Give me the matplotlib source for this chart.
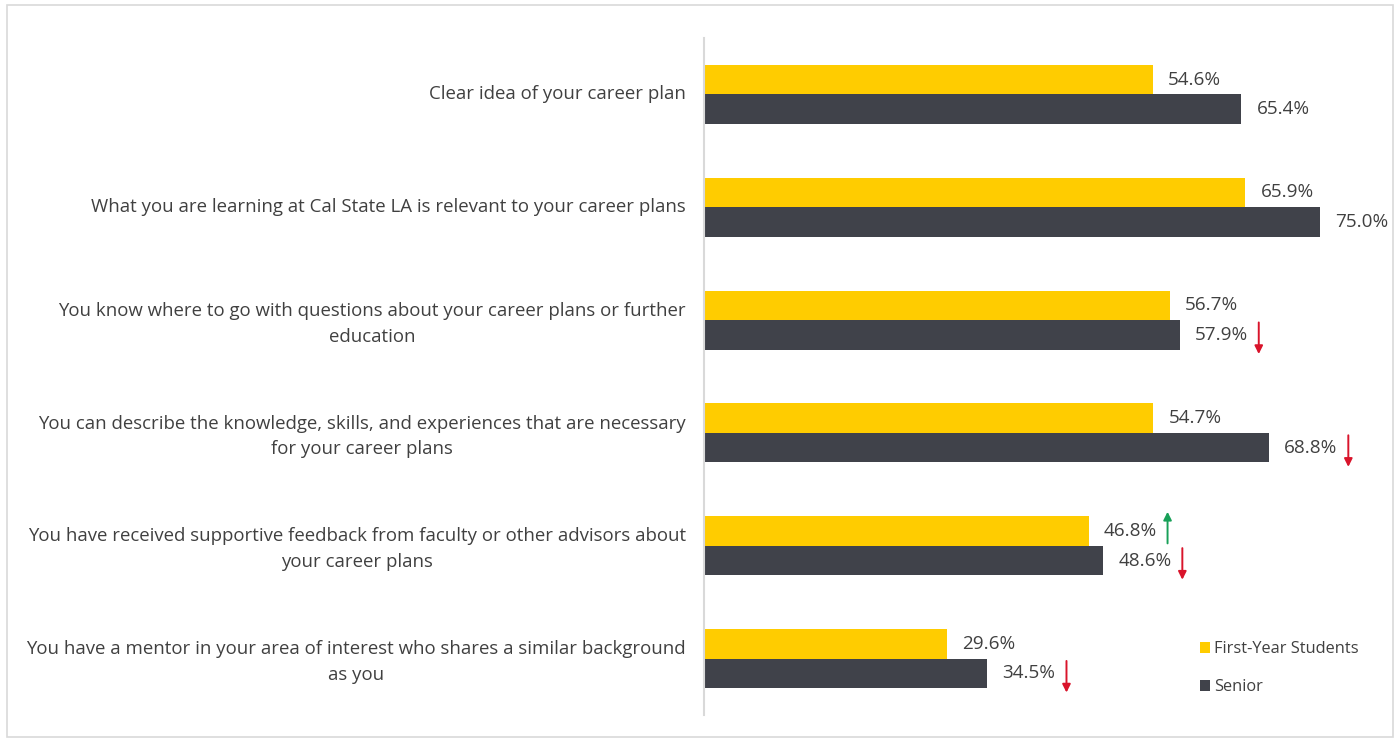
import matplotlib
matplotlib.use("Agg")
import matplotlib.pyplot as plt
import matplotlib.transforms as mtransforms
from matplotlib.patches import Rectangle
import numpy as np

plt.rcParams['font.family'] = ['Open Sans', 'DejaVu Sans']

categories = [
    "Clear idea of your career plan",
    "What you are learning at Cal State LA is relevant to your career plans",
    "You know where to go with questions about your career plans or further\neducation",
    "You can describe the knowledge, skills, and experiences that are necessary\nfor your career plans",
    "You have received supportive feedback from faculty or other advisors about\nyour career plans",
    "You have a mentor in your area of interest who shares a similar background\nas you",
]
first_year = [54.6, 65.9, 56.7, 54.7, 46.8, 29.6]
senior = [65.4, 75.0, 57.9, 68.8, 48.6, 34.5]
# arrow markers: 1 = up (green), -1 = down (red), 0 = none
first_year_arrows = [0, 0, 0, 0, 1, 0]
senior_arrows = [0, 0, -1, -1, -1, -1]
series_names = ["First-Year Students", "Senior"]

YELLOW = "#FFCC00"
DARK = "#40424A"
TEXT = "#404040"
RED = "#D9142B"
GREEN = "#18A058"

fig = plt.figure(figsize=(13.98, 7.42), dpi=100)
fig.patches.append(Rectangle((7/1398, 5/742), 1386/1398, 732/742, transform=fig.transFigure,
                             fill=False, edgecolor="#D9D9D9", linewidth=1.2))

ax = fig.add_axes([704/1398, 27/742, 682/1398, 677/742])
n = len(categories)
y = np.arange(n)
h = 0.262
ax.barh(y - h/2, first_year, height=h, color=YELLOW, label=series_names[0])
ax.barh(y + h/2, senior, height=h, color=DARK, label=series_names[1])
ax.set_ylim(n - 0.5, -0.5)
ax.set_xlim(0, 83)

for s in ["top", "right", "bottom"]:
    ax.spines[s].set_visible(False)
ax.spines["left"].set_color("#D9D9D9")
ax.spines["left"].set_linewidth(1.5)
ax.set_xticks([])
ax.set_yticks(y - 0.02)
ax.set_yticklabels(categories, fontsize=13.4, color=TEXT, multialignment="center", linespacing=1.55)
ax.tick_params(axis="y", length=0, pad=13)

def label(vals, offs, arrows):
    for i, v in enumerate(vals):
        tr = mtransforms.offset_copy(ax.transData, fig=fig, x=15, y=0, units="dots")
        ax.text(v, i + offs, f"{v:.1f}%", transform=tr, fontsize=13.6, color=TEXT,
                ha="left", va="center")
        a = arrows[i]
        if a != 0:
            tr0 = mtransforms.offset_copy(ax.transData, fig=fig, x=79, y=0, units="dots")
            if a > 0:
                start, end, col = (i + offs + 0.11), (i + offs - 0.17), GREEN
            else:
                start, end, col = (i + offs - 0.11), (i + offs + 0.17), RED
            ax.annotate("", xy=(v, end), xytext=(v, start), xycoords=tr0, textcoords=tr0,
                        arrowprops=dict(arrowstyle="-|>", color=col, lw=1.4,
                                        mutation_scale=12, shrinkA=0, shrinkB=0))

label(first_year, -h/2, first_year_arrows)
label(senior, h/2, senior_arrows)

leg = ax.legend(loc="lower left", bbox_to_anchor=(481/682, 5/677), frameon=False,
                fontsize=11.8, handlelength=0.6, handleheight=0.6, handletextpad=0.25,
                labelspacing=1.35, labelcolor=TEXT)

fig.savefig("out.png", dpi=100, facecolor="white")
